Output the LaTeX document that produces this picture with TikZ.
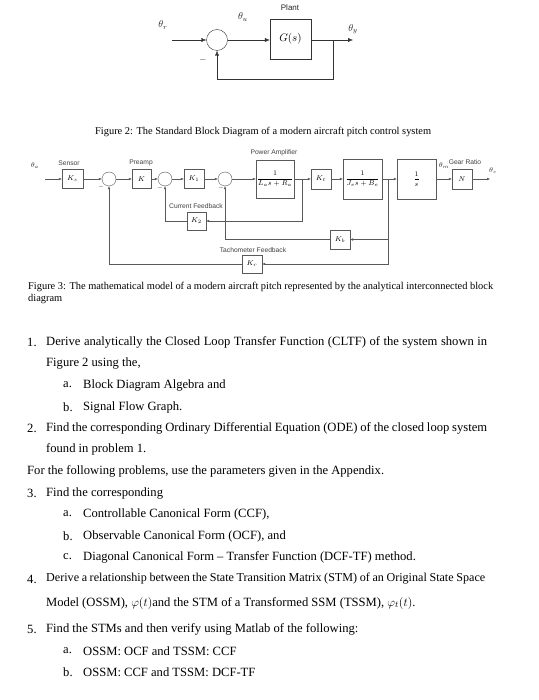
\documentclass[tikz,border=0pt]{standalone}
\usepackage{fontspec}
\setmainfont{Liberation Serif}
\newfontfamily\labelfont{Liberation Sans}
\usetikzlibrary{arrows.meta}

\tikzset{
    blk/.style={draw=gray!70!black, fill=white, inner sep=0pt},
    sumnode/.style={circle, draw=gray!70!black, fill=white, inner sep=0pt},
    lbl/.style={inner sep=0pt, text=black!85},
    tag/.style={inner sep=0pt, text=gray!50!black, font=\labelfont\fontsize{6.7}{7}\selectfont},
    item/.style={anchor=west, inner sep=0pt, font=\fontsize{12.6}{15}\selectfont},
    capt/.style={anchor=west, inner sep=0pt, font=\fontsize{10.4}{12}\selectfont},
}

\begin{document}
\begin{tikzpicture}[x=1pt, y=-1pt, >={Latex[length=5pt,width=4pt]}]
    \fill[white] (0,0) rectangle (538,700);
    \useasboundingbox (0,0) rectangle (538,700);

    % standard loop
    \node[sumnode, draw=black!80, minimum size=21pt] (sumA) at (217,40) {};
    \node[blk, draw=black!80, minimum width=41pt, minimum height=40pt, font=\fontsize{11}{13}\selectfont] (plant) at (290.5,39) {$G(s)$};
    \coordinate (inA) at (172,40);
    \coordinate (brA) at (333,40);
    \coordinate (outA) at (353,40);
    \draw[black!80, ->] (inA) -- (sumA);
    \draw[black!80, ->] (sumA) -- (sumA -| plant.west);
    \draw[black!80, ->] (sumA -| plant.east) -- (outA);
    \draw[black!80, ->] (brA) -- ++(0,39) -| (sumA);
    \node[lbl, font=\fontsize{10}{12}\selectfont] (thr) at (163,25) {$\theta_r$};
    \node[lbl, font=\fontsize{10}{12}\selectfont] (thu) at (243,17) {$\theta_u$};
    \node[lbl, font=\fontsize{10}{12}\selectfont] (thy) at (353,29) {$\theta_y$};
    \node[lbl, font=\labelfont\fontsize{8}{9}\selectfont] (plantlbl) at (290,8) {Plant};
    \node[lbl, font=\fontsize{9}{10}\selectfont] (minA) at (203,60) {$-$};

    \node[capt] (capA) at (95,132) {Figure 2: The Standard Block Diagram of a modern aircraft pitch control system};

    % pitch model
    \begin{scope}[>={Latex[length=3pt,width=2.6pt]}, draw=gray!70!black, font=\fontsize{7.5}{9}\selectfont]
        \coordinate (inB) at (45,179);
        \node[blk, minimum width=21pt, minimum height=19pt] (ks) at (72.5,179) {$K_s$};
        \node[sumnode, minimum size=14pt] (s1) at (109,179) {};
        \node[blk, minimum width=19pt, minimum height=19pt] (kp) at (141.5,179) {$K$};
        \node[sumnode, minimum size=14pt] (s2) at (165,179) {};
        \node[blk, minimum width=20pt, minimum height=19pt] (k1) at (194,179) {$K_1$};
        \node[sumnode, minimum size=14pt] (s3) at (225,179) {};
        \node[blk, minimum width=38pt, minimum height=38pt] (pa) at (275,179) {$\displaystyle\frac{1}{L_a s+R_a}$};
        \node[blk, minimum width=20pt, minimum height=20pt] (kt) at (321,179) {$K_t$};
        \node[blk, minimum width=39pt, minimum height=40pt] (jb) at (362.5,179) {$\displaystyle\frac{1}{J_e s+B_e}$};
        \node[blk, minimum width=39pt, minimum height=40pt] (integ) at (416.5,179) {$\displaystyle\frac{1}{s}$};
        \node[blk, minimum width=20pt, minimum height=20pt] (gear) at (462,179) {$N$};
        \coordinate (outB) at (490,179);
        \node[blk, minimum width=19pt, minimum height=18pt] (k2) at (196.5,221) {$K_2$};
        \node[blk, minimum width=20pt, minimum height=19pt] (kb) at (340,239.5) {$K_b$};
        \node[blk, minimum width=20pt, minimum height=18pt] (kr) at (252,264) {$K_r$};
        \coordinate (b1) at (302,179);
        \coordinate (b2) at (388,179);

        \draw[->] (inB) -- (ks);
        \draw[->] (ks) -- (s1);
        \draw[->] (s1) -- (kp);
        \draw[->] (kp) -- (s2);
        \draw[->] (s2) -- (k1);
        \draw[->] (k1) -- (s3);
        \draw[->] (s3) -- (pa);
        \draw[->] (pa) -- (kt);
        \draw[->] (kt) -- (jb);
        \draw[->] (jb) -- (integ);
        \draw[->] (integ) -- (gear);
        \draw[->] (gear) -- (outB);
        \draw[->] (b1) |- (k2);
        \draw[->] (k2) -| (s2);
        \draw[->] (b2) |- (kb);
        \draw[->] (kb) -| (s3);
        \draw[->] (b2) |- (kr);
        \draw[->] (kr) -| (s1);

        \node[lbl, font=\fontsize{7}{8}\selectfont] (tha) at (35,166) {$\theta_a$};
        \node[lbl, font=\fontsize{7}{8}\selectfont] (thm) at (444,166) {$\theta_m$};
        \node[lbl, font=\fontsize{7}{8}\selectfont] (ths) at (493,171) {$\theta_s$};
        \node[tag] (senslbl) at (69,163) {Sensor};
        \node[tag] (prelbl) at (141,163) {Preamp};
        \node[tag] (pwrlbl) at (274,153) {Power Amplifier};
        \node[tag] (curlbl) at (196,206) {Current Feedback};
        \node[tag] (geatlbl) at (465,162) {Gear Ratio};
        \node[tag] (tachlbl) at (253,250) {Tachometer Feedback};
        \node[lbl, font=\fontsize{6}{7}\selectfont] (min1) at (101,187) {$-$};
        \node[lbl, font=\fontsize{6}{7}\selectfont] (min2) at (160,188) {$-$};
        \node[lbl, font=\fontsize{6}{7}\selectfont] (min3) at (221,188) {$-$};
    \end{scope}

    \node[capt] (capB) at (28,287) {Figure 3: The mathematical model of a modern aircraft pitch represented by the analytical interconnected block};
    \node[capt] (capC) at (28,299) {diagram};

    % problems
    \node[item] (n1) at (27,342) {1.};
    \node[item] (t1) at (46,342) {\makebox[441pt][s]{Derive analytically the Closed Loop Transfer Function (CLTF) of the system shown in}};
    \node[item] (t1b) at (46,363) {Figure 2 using the,};
    \node[item] (n1a) at (63,385) {a.};
    \node[item] (t1a) at (83,385) {Block Diagram Algebra and};
    \node[item] (n1b) at (63,407) {b.};
    \node[item] (t1c) at (83,407) {Signal Flow Graph.};
    \node[item] (n2) at (27,428) {2.};
    \node[item] (t2) at (46,428) {\makebox[441pt][s]{Find the corresponding Ordinary Differential Equation (ODE) of the closed loop system}};
    \node[item] (t2b) at (46,449) {found in problem 1.};
    \node[item] (tp) at (27,471) {For the following problems, use the parameters given in the Appendix.};
    \node[item] (n3) at (27,493) {3.};
    \node[item] (t3) at (46,493) {Find the corresponding};
    \node[item] (n3a) at (63,514) {a.};
    \node[item] (t3a) at (83,514) {Controllable Canonical Form (CCF),};
    \node[item] (n3b) at (63,536) {b.};
    \node[item] (t3b) at (83,536) {Observable Canonical Form (OCF), and};
    \node[item] (n3c) at (63,557) {c.};
    \node[item] (t3c) at (83,557) {Diagonal Canonical Form -- Transfer Function (DCF-TF) method.};
    \node[item] (n4) at (27,579) {4.};
    \node[item] (t4) at (46,579) {\fontsize{12.1}{15}\selectfont\makebox[439pt][s]{Derive a relationship between the State Transition Matrix (STM) of an Original State Space}};
    \node[item] (t4b) at (46,603) {Model (OSSM), $\varphi(t)$and the STM of a Transformed SSM (TSSM), $\varphi_t(t)$.};
    \node[item] (n5) at (27,629) {5.};
    \node[item] (t5) at (46,629) {Find the STMs and then verify using Matlab of the following:};
    \node[item] (n5a) at (63,651) {a.};
    \node[item] (t5a) at (83,651) {OSSM: OCF and TSSM: CCF};
    \node[item] (n5b) at (63,672) {b.};
    \node[item] (t5b) at (83,672) {OSSM: CCF and TSSM: DCF-TF};
\end{tikzpicture}
\end{document}
